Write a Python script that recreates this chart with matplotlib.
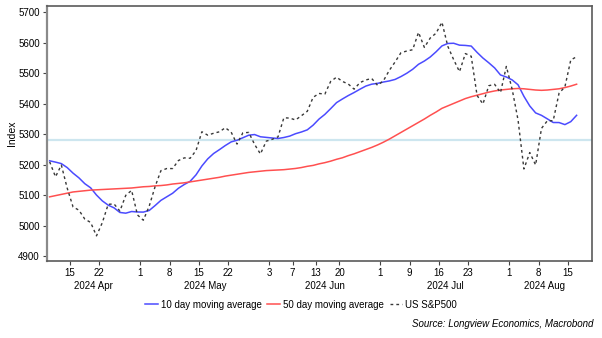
import matplotlib as mpl
mpl.use('Agg')
import matplotlib.pyplot as plt
import matplotlib.transforms as mtransforms
import pandas as pd

plt.rcParams['font.family'] = ['Liberation Sans', 'DejaVu Sans']

# trading days shown on the axis (weekends and US market holidays left out)
holidays = ['2024-05-27', '2024-06-19', '2024-07-04']
dates = pd.bdate_range('2024-04-09', '2024-08-16')
dates = dates[~dates.isin(pd.to_datetime(holidays))]

sp500 = [5209.91, 5160.64, 5199.06, 5123.41, 5061.82, 5051.41, 5022.21, 5011.12, 4967.23, 5010.60,
         5070.55, 5071.63, 5048.42, 5099.96, 5116.17, 5035.69, 5018.39, 5064.20, 5127.79, 5180.74,
         5187.70, 5187.67, 5214.08, 5222.68, 5221.42, 5246.68, 5308.15, 5297.10, 5303.27, 5308.13,
         5321.41, 5307.01, 5267.84, 5304.72, 5306.04, 5266.95, 5235.48, 5277.51, 5283.40, 5291.34,
         5354.03, 5352.96, 5346.99, 5360.79, 5375.32, 5421.03, 5433.74, 5431.60, 5473.23, 5487.03,
         5473.17, 5464.62, 5447.87, 5469.30, 5477.90, 5482.87, 5460.48, 5475.09, 5509.01, 5537.02,
         5567.19, 5572.85, 5576.98, 5633.91, 5584.54, 5615.35, 5631.22, 5667.20, 5588.27, 5544.59,
         5505.00, 5564.41, 5555.74, 5427.13, 5399.22, 5459.10, 5463.54, 5436.44, 5522.30, 5446.68,
         5346.56, 5186.33, 5240.03, 5199.50, 5319.31, 5344.16, 5344.39, 5434.43, 5455.21, 5543.22,
         5554.25]

ma10 = [5213.1, 5208.8, 5203.9, 5190.8, 5172.6, 5157.2, 5138.2, 5124.6, 5100.9, 5081.7,
        5067.8, 5058.9, 5043.8, 5041.5, 5046.9, 5045.4, 5045.0, 5050.3, 5066.3, 5083.4,
        5095.1, 5106.7, 5123.2, 5135.5, 5146.0, 5167.1, 5196.1, 5219.4, 5236.9, 5249.7,
        5263.1, 5275.0, 5280.4, 5288.6, 5297.0, 5299.1, 5291.8, 5289.8, 5287.8, 5286.2,
        5289.4, 5294.0, 5301.9, 5307.5, 5314.5, 5329.9, 5349.7, 5365.1, 5384.1, 5403.7,
        5415.6, 5426.8, 5436.8, 5447.7, 5457.9, 5464.1, 5466.8, 5471.2, 5474.7, 5479.7,
        5489.1, 5500.0, 5512.9, 5529.3, 5540.0, 5553.2, 5570.3, 5589.5, 5597.5, 5598.2,
        5592.0, 5591.1, 5589.0, 5568.3, 5549.8, 5534.2, 5517.4, 5494.3, 5487.7, 5478.0,
        5462.1, 5424.3, 5392.7, 5370.0, 5362.0, 5350.5, 5338.6, 5338.4, 5331.7, 5341.3,
        5362.1]

ma50 = [5095, 5099, 5103, 5107, 5111, 5113, 5115, 5117, 5118, 5119,
        5120, 5121, 5122, 5123, 5124, 5126, 5128, 5129, 5131, 5132,
        5134, 5137, 5139, 5141, 5144, 5147, 5150, 5153, 5156, 5159,
        5163, 5166, 5169, 5172, 5175, 5177, 5179, 5181, 5182, 5183,
        5184, 5186, 5188, 5191, 5195, 5198, 5203, 5207, 5212, 5218,
        5223, 5230, 5236, 5243, 5250, 5257, 5265, 5274, 5284, 5295,
        5306, 5317, 5328, 5339, 5350, 5362, 5373, 5385, 5393, 5401,
        5409, 5417, 5423, 5428, 5433, 5438, 5442, 5445, 5447, 5449,
        5450, 5449, 5447, 5445, 5444, 5445, 5447, 5449, 5453, 5458,
        5464]

ref_level = 5280
tick_days = ['2024-04-15', '2024-04-22', '2024-05-01', '2024-05-08', '2024-05-15', '2024-05-22',
             '2024-06-03', '2024-06-07', '2024-06-13', '2024-06-20', '2024-07-01', '2024-07-09',
             '2024-07-16', '2024-07-23', '2024-08-01', '2024-08-08', '2024-08-15']

x = list(range(len(dates)))
x_right = 92.65

fig = plt.figure(figsize=(6.02, 3.38), dpi=100)
ax = fig.add_axes([0.0776, 0.228, 0.906, 0.754])

ax.axhline(ref_level, color='#cde6ef', linewidth=1.6, zorder=1)
l1, = ax.plot(x, ma10, color='#4b4bff', linewidth=1.1, zorder=3)
l2, = ax.plot(x, ma50, color='#ff5050', linewidth=1.1, zorder=3)
l3, = ax.plot(x, sp500, color='#383838', linewidth=1.0, linestyle=(0, (2, 2.2)), zorder=4)

ax.set_xlim(-0.5, x_right)
ax.set_ylim(4885, 5720)
ax.set_yticks(range(4900, 5701, 100))
ax.set_ylabel('Index', fontsize=7.5, labelpad=1)

# ticks sit at the left edge of each day's slot
pos = [dates.get_loc(pd.Timestamp(d)) - 0.5 for d in tick_days]
ax.set_xticks(pos)
ax.set_xticklabels([str(pd.Timestamp(d).day) for d in tick_days])
ax.tick_params(axis='both', labelsize=7, length=3, width=0.8, color='#444444', pad=2)

# month labels centred on each month's span
trans = mtransforms.blended_transform_factory(ax.transData, ax.transAxes)
months = pd.Series(x, index=dates).groupby(dates.to_period('M'))
for per, idx in months:
    lo = max(idx.min() - 0.5, -0.5)
    hi = min(idx.max() + 0.5, x_right)
    ax.text((lo + hi) / 2, -0.078, per.strftime('%Y %b'), transform=trans,
            ha='center', va='top', fontsize=7)

for side in ['left', 'bottom', 'top', 'right']:
    ax.spines[side].set_color('#5a5a5a')
    ax.spines[side].set_linewidth(1.2)
ax.spines['left'].set_color('#8a8a8a')
ax.spines['left'].set_linewidth(1.6)

fig.legend([l1, l2, l3], ['10 day moving average', '50 day moving average', 'US S&P500'],
           loc='center', bbox_to_anchor=(0.5, 0.098), ncol=3, frameon=False, fontsize=7,
           handlelength=1.3, handletextpad=0.3, columnspacing=0.6)

fig.text(0.986, 0.04, 'Source: Longview Economics, Macrobond', ha='right', va='center',
         fontsize=7, style='italic')

fig.savefig('out.png', dpi=100)
